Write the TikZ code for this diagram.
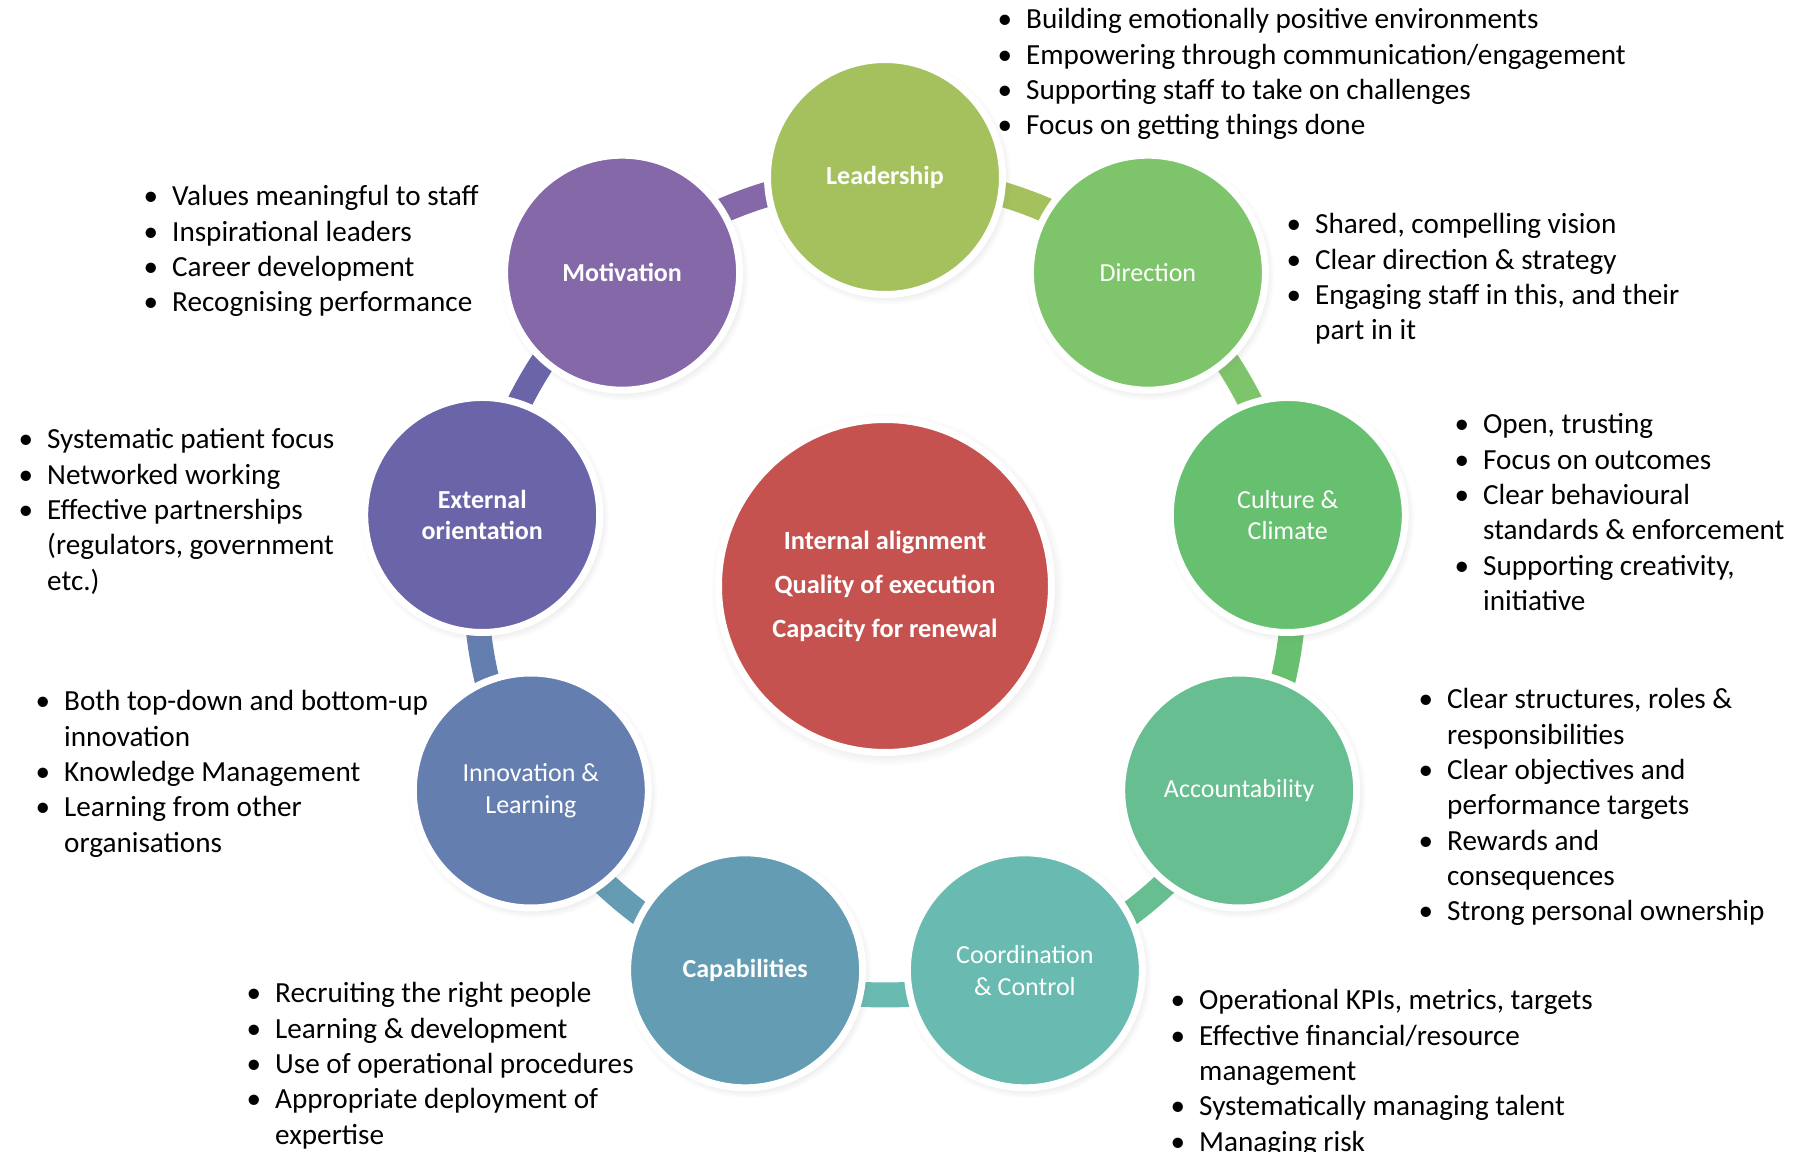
\documentclass[tikz,border=0pt]{standalone}
\usepackage{fontspec}
\setmainfont{Carlito}
\usetikzlibrary{shadows}
\usetikzlibrary{backgrounds}

\definecolor{leadgreen}{HTML}{A4C15E}
\definecolor{dirgreen}{HTML}{7EC46A}
\definecolor{cultgreen}{HTML}{67C06F}
\definecolor{acctgreen}{HTML}{67BE91}
\definecolor{coordteal}{HTML}{69BBB1}
\definecolor{capabblue}{HTML}{639CB3}
\definecolor{innovblue}{HTML}{657EB0}
\definecolor{extviolet}{HTML}{6A64A9}
\definecolor{motivpurple}{HTML}{8568A8}
\definecolor{corered}{HTML}{C65250}

% bullet and hanging indent for the note lists
\newcommand{\itm}{\makebox[0.285cm][l]{\textbullet}}
\newcommand{\cont}{\hspace*{0.285cm}}

\begin{document}
\begin{tikzpicture}[
    ring/.style={circle, draw=white, line width=0.07cm, minimum size=2.35cm, inner sep=0pt, align=center, text=white,
                 font=\fontsize{7.4}{9}\selectfont,
                 circular drop shadow={shadow scale=1.06, shadow xshift=0.02cm, shadow yshift=-0.03cm, opacity=0.3}},
    core/.style={ring, minimum size=3.33cm, fill=corered, font=\fontsize{7.5}{12.5}\selectfont\bfseries},
    band/.style={line width=0.25cm},
    notes/.style={anchor=north west, inner sep=0pt, align=left, font=\fontsize{8.3}{10.05}\selectfont},
    ]
    \useasboundingbox (0,0) rectangle (18.06,-11.52);

    % hub and the nine factors around it
    \node[core] (core) at (8.85,-5.86) {Internal alignment\\Quality of execution\\Capacity for renewal};
    \begin{scope}[shift={(8.85,-5.86)}]
        \node[ring, fill=leadgreen]   (lead)  at (90:4.09)  {\textbf{Leadership}};
        \node[ring, fill=dirgreen]    (dir)   at (50:4.09)  {Direction};
        \node[ring, fill=cultgreen]   (cult)  at (10:4.09)  {Culture \&\\Climate};
        \node[ring, fill=acctgreen]   (acct)  at (-30:4.09) {Accountability};
        \node[ring, fill=coordteal]   (coord) at (-70:4.09) {Coordination\\\& Control};
        \node[ring, fill=capabblue]   (capab) at (250:4.09) {\textbf{Capabilities}};
        \node[ring, fill=innovblue]   (innov) at (210:4.09) {Innovation \&\\Learning};
        \node[ring, fill=extviolet]   (ext)   at (170:4.09) {\textbf{External}\\\textbf{orientation}};
        \node[ring, fill=motivpurple] (motiv) at (130:4.09) {\textbf{Motivation}};
    \end{scope}

    % links between neighbours, in the colour of the one before
    \begin{scope}[on background layer]
        \draw[band, leadgreen]   (lead.center)  arc[start angle=90,  end angle=50,  radius=4.09];
        \draw[band, dirgreen]    (dir.center)   arc[start angle=50,  end angle=10,  radius=4.09];
        \draw[band, cultgreen]   (cult.center)  arc[start angle=10,  end angle=-30, radius=4.09];
        \draw[band, acctgreen]   (acct.center)  arc[start angle=-30, end angle=-70, radius=4.09];
        \draw[band, coordteal]   (coord.center) arc[start angle=290, end angle=250, radius=4.09];
        \draw[band, capabblue]   (capab.center) arc[start angle=250, end angle=210, radius=4.09];
        \draw[band, innovblue]   (innov.center) arc[start angle=210, end angle=170, radius=4.09];
        \draw[band, extviolet]   (ext.center)   arc[start angle=170, end angle=130, radius=4.09];
        \draw[band, motivpurple] (motiv.center) arc[start angle=130, end angle=90,  radius=4.09];
    \end{scope}

    % notes
    \node[notes] (leadnotes) at (9.97,-0.08) {\itm Building emotionally positive environments\\
        \itm Empowering through communication/engagement\\
        \itm Supporting staff to take on challenges\\
        \itm Focus on getting things done};
    \node[notes] (dirnotes) at (12.86,-2.13) {\itm Shared, compelling vision\\
        \itm Clear direction \& strategy\\
        \itm Engaging staff in this, and their\\
        \cont part in it};
    \node[notes] (cultnotes) at (14.54,-4.13) {\itm Open, trusting\\
        \itm Focus on outcomes\\
        \itm Clear behavioural\\
        \cont standards \& enforcement\\
        \itm Supporting creativity,\\
        \cont initiative};
    \node[notes] (acctnotes) at (14.18,-6.88) {\itm Clear structures, roles \&\\
        \cont responsibilities\\
        \itm Clear objectives and\\
        \cont performance targets\\
        \itm Rewards and\\
        \cont consequences\\
        \itm Strong personal ownership};
    \node[notes] (coordnotes) at (11.70,-9.89) {\itm Operational KPIs, metrics, targets\\
        \itm Effective financial/resource\\
        \cont management\\
        \itm Systematically managing talent\\
        \itm Managing risk};
    \node[notes] (capabnotes) at (2.46,-9.82) {\itm Recruiting the right people\\
        \itm Learning \& development\\
        \itm Use of operational procedures\\
        \itm Appropriate deployment of\\
        \cont expertise};
    \node[notes] (innovnotes) at (0.35,-6.90) {\itm Both top-down and bottom-up\\
        \cont innovation\\
        \itm Knowledge Management\\
        \itm Learning from other\\
        \cont organisations};
    \node[notes] (extnotes) at (0.18,-4.28) {\itm Systematic patient focus\\
        \itm Networked working\\
        \itm Effective partnerships\\
        \cont (regulators, government\\
        \cont etc.)};
    \node[notes] (motivnotes) at (1.43,-1.85) {\itm Values meaningful to staff\\
        \itm Inspirational leaders\\
        \itm Career development\\
        \itm Recognising performance};
\end{tikzpicture}
\end{document}
